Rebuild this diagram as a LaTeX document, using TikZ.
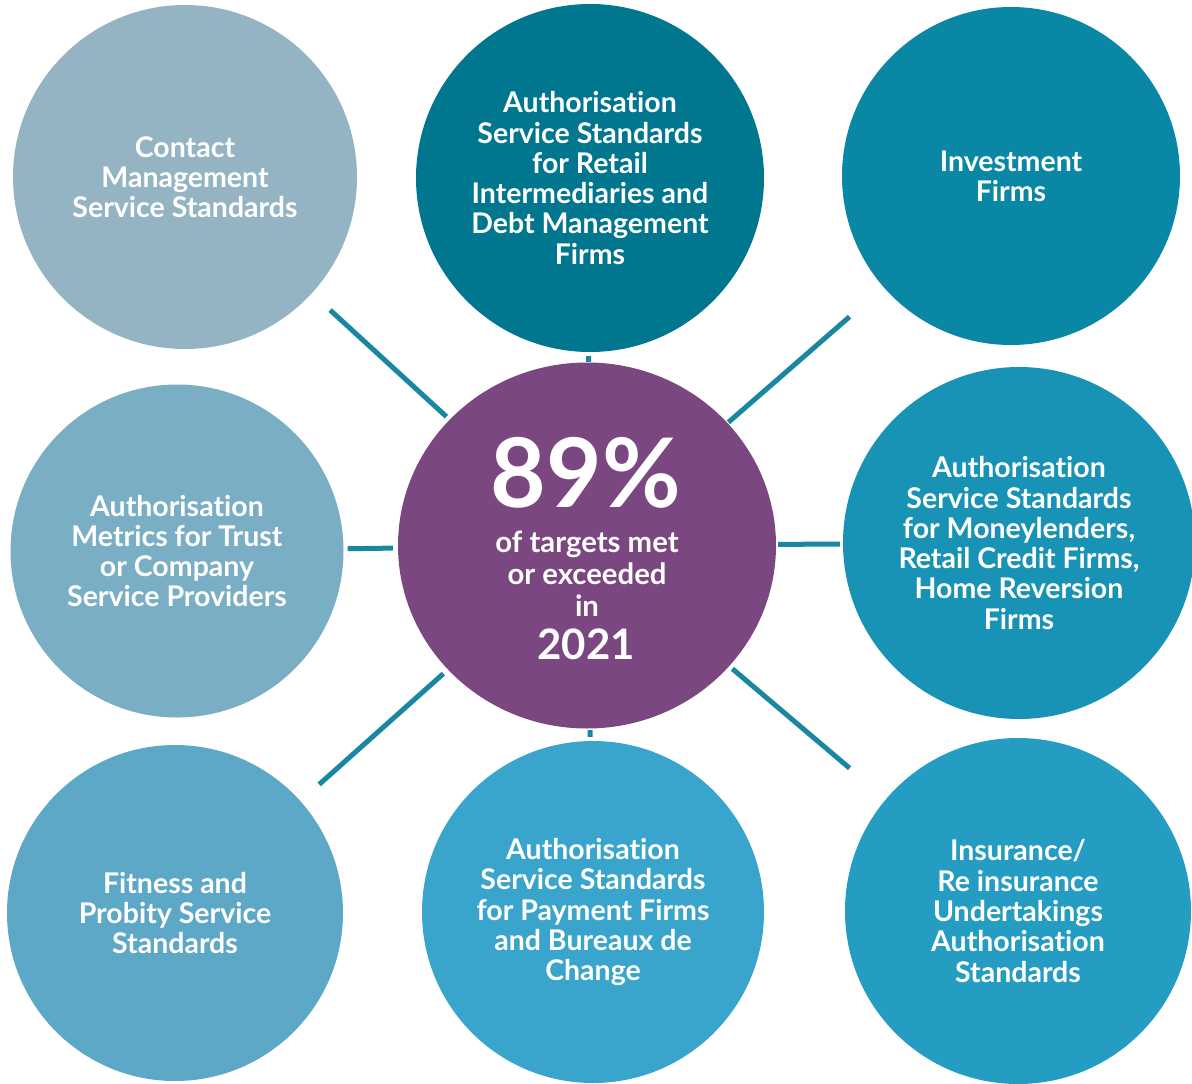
\documentclass[tikz,border=0pt]{standalone}
\usepackage{fontspec}
\setmainfont{Lato}[Ligatures=NoCommon]
\usetikzlibrary{shapes.geometric}

\definecolor{cContact}{HTML}{94B4C4}
\definecolor{cRetail}{HTML}{00768F}
\definecolor{cInvest}{HTML}{0A87A4}
\definecolor{cTrust}{HTML}{7AAEC5}
\definecolor{cHub}{HTML}{7B4780}
\definecolor{cMoney}{HTML}{1893B5}
\definecolor{cProbity}{HTML}{5DA7C7}
\definecolor{cPayment}{HTML}{39A5CC}
\definecolor{cInsur}{HTML}{259DC3}
\definecolor{cLink}{HTML}{1A87A1}

\tikzset{
  bubble/.style={circle, inner sep=0pt, text=white, align=center,
    font=\bfseries\fontsize{28.5}{30.3}\selectfont},
  hubtext/.style={text=white, inner sep=0pt, anchor=base, font=\bfseries},
  link/.style={draw=cLink, line width=5pt, line cap=butt}
}

\begin{document}
\begin{tikzpicture}[x=1pt, y=-1pt]
  \useasboundingbox (0,0) rectangle (1192,1084);

  % outer topic bubbles
  \node[bubble, fill=cContact, minimum size=344] (contact) at (185,177)
    {Contact\\Management\\Service Standards};
  \node[bubble, fill=cRetail, minimum size=348] (retail) at (590,178)
    {Authorisation\\Service Standards\\for Retail\\Intermediaries and\\Debt Management\\Firms};
  \node[bubble, fill=cInvest, minimum size=338] (invest) at (1011,176)
    {Investment\\Firms};
  \node[bubble, fill=cTrust, minimum size=333] (trust) at (177,551)
    {Authorisation\\Metrics for Trust\\or Company\\Service Providers};
  \node[bubble, fill=cMoney, minimum size=352] (money) at (1019,543)
    {Authorisation\\Service Standards\\for Moneylenders,\\Retail Credit Firms,\\Home Reversion\\Firms};
  \node[bubble, fill=cProbity, minimum size=336] (probity) at (175,913)
    {Fitness and\\Probity Service\\Standards};
  \node[bubble, fill=cPayment, minimum size=342] (payment) at (593,912)
    {Authorisation\\Service Standards\\for Payment Firms\\and Bureaux de\\Change};
  \node[bubble, fill=cInsur, minimum size=346] (insur) at (1018,911)
    {Insurance/\\Re insurance\\Undertakings\\Authorisation\\Standards};

  % central hub
  \node[ellipse, fill=cHub, inner sep=0pt, minimum width=378, minimum height=366]
    (hub) at (587,545.5) {};
  \node[hubtext, font=\bfseries\fontsize{96}{96}\selectfont] (pct) at (586,507) {89\%};
  \node[hubtext, font=\bfseries\fontsize{29.3}{31}\selectfont] (sub1) at (587,552) {of targets met};
  \node[hubtext, font=\bfseries\fontsize{29.3}{31}\selectfont] (sub2) at (587,584) {or exceeded};
  \node[hubtext, font=\bfseries\fontsize{29.3}{31}\selectfont] (sub3) at (587,616) {in};
  \node[hubtext, font=\bfseries\fontsize{42}{42}\selectfont] (year) at (586,659) {2021};

  % spokes between hub and bubbles
  \draw[link, shorten <=4.3pt, shorten >=24.7pt] (hub) -- (contact);
  \draw[link, shorten <=1pt,   shorten >=45pt]   (hub) -- (invest);
  \draw[link, shorten <=6pt,   shorten >=25pt]   (hub) -- (probity);
  \draw[link, shorten <=4pt,   shorten >=47.6pt] (hub) -- (insur);
  \draw[link, shorten <=5pt,   shorten >=4pt]    (hub) -- (trust);
  \draw[link, shorten <=2pt,   shorten >=3pt]    (hub) -- (money);
  \draw[link, shorten <=0.5pt, shorten >=4pt]    (hub) -- (retail);
  \draw[link, shorten <=1.5pt, shorten >=4pt]    (hub) -- (payment);
\end{tikzpicture}
\end{document}
